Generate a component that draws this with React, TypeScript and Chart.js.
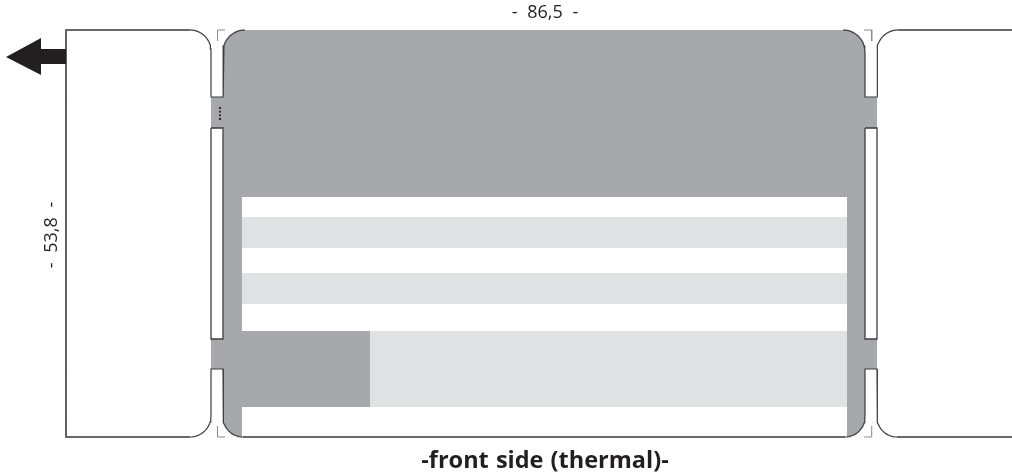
import React, { useEffect, useRef } from "react";
import { Chart, registerables } from "chart.js";

Chart.register(...registerables);

type P = { x: number; y: number };
type Rect = [number, number, number, number];

const widthLabel = "- 86,5 -";
const heightLabel = "- 53,8 -";
const sideLabel = "-front side (thermal)-";

const GREY = "#a7a8ab";
const LIGHT = "#e0e1e3";
const INK = "#3c3c3e";
const EDGE = "#58585a";
const MARK = "#8a8b8d";
const BLACK = "#231f20";

const arc = (cx: number, cy: number, r: number, a0: number, a1: number): P[] => {
  const out: P[] = [];
  const n = 16;
  for (let i = 0; i <= n; i++) {
    const a = ((a0 + ((a1 - a0) * i) / n) * Math.PI) / 180;
    out.push({ x: cx + r * Math.cos(a), y: cy + r * Math.sin(a) });
  }
  return out;
};
const pts = (list: [number, number][]): P[] => list.map(([x, y]) => ({ x, y }));
const box = ([x0, y0, x1, y1]: Rect): P[] =>
  pts([[x0, y0], [x1, y0], [x1, y1], [x0, y1], [x0, y0]]);

const cardShape: P[] = [
  ...arc(245, 52, 22, 180, 270),
  ...arc(843, 52, 22, 270, 360),
  ...arc(845, 417, 20, 0, 90),
  ...arc(243, 417, 20, 90, 180),
  { x: 223, y: 52 },
];
const greyBands: Rect[] = [
  [211, 97, 226, 128],
  [211, 339, 226, 369],
  [862, 97, 877, 128],
  [862, 339, 877, 369],
];
const whitePanel: Rect[] = [[242, 197, 847, 437]];
const lightRows: Rect[] = [
  [242, 217, 847, 248],
  [242, 273, 847, 304],
  [370, 331, 847, 407],
];
const darkBlock: Rect[] = [[242, 331, 370, 407]];
const slots: Rect[] = [
  [211, 128, 223, 339],
  [865, 128, 877, 339],
];

const lowerOutline: P[] = [
  ...arc(245, 52, 22, 270, 180),
  ...pts([[223, 97], [211, 97]]),
  ...arc(190, 51, 21, 0, -90),
  ...pts([[66, 30], [66, 437]]),
  ...arc(190, 416, 21, 90, 0),
  ...pts([[211, 369], [223, 369]]),
  ...arc(243, 417, 20, 180, 90),
  ...arc(845, 417, 20, 90, 0),
  ...pts([[865, 369], [877, 369]]),
  ...arc(897, 417, 20, 180, 90),
  { x: 1012, y: 437 },
];
const upperOutline: P[] = [
  ...arc(843, 52, 22, 270, 360),
  ...pts([[865, 97], [877, 97]]),
  ...arc(898, 51, 21, 180, 270),
  { x: 1012, y: 30 },
];
const heavyEdges: P[][] = [
  pts([[190, 30], [66, 30], [66, 437], [190, 437]]),
  pts([[243, 437], [845, 437]]),
  pts([[897, 437], [1012, 437]]),
  pts([[898, 30], [1012, 30]]),
];
const cropMarks: P[][] = [
  pts([[225, 30], [217.5, 30], [217.5, 41]]),
  pts([[864, 30], [871.7, 30], [871.7, 41]]),
  pts([[217.5, 426], [217.5, 437], [225, 437]]),
  pts([[864, 437], [871.7, 437], [871.7, 426]]),
];
const arrowShape: P[] = pts([
  [66, 49], [41, 49], [41, 38], [6, 57], [41, 75], [41, 64], [66, 64], [66, 49],
]);
const perforation: P[] = pts([[220, 108], [220, 111.7], [220, 115.4], [220, 119]]);

const fillOf = (data: P[], color: string) => ({
  type: "scatter" as const,
  data,
  showLine: true,
  fill: "shape",
  backgroundColor: color,
  borderColor: color,
  borderWidth: 0,
  pointRadius: 0,
  tension: 0,
});
const strokeOf = (data: P[], color: string, width: number) => ({
  type: "scatter" as const,
  data,
  showLine: true,
  fill: false,
  borderColor: color,
  borderWidth: width,
  pointRadius: 0,
  tension: 0,
  borderJoinStyle: "miter" as const,
});

const textPlugin = {
  id: "diagramText",
  afterDatasetsDraw(chart: any) {
    const { ctx, scales } = chart;
    const X = (v: number) => scales.x.getPixelForValue(v);
    const Y = (v: number) => scales.y.getPixelForValue(v);
    ctx.save();
    ctx.fillStyle = BLACK;
    ctx.textAlign = "center";
    ctx.textBaseline = "middle";
    ctx.font = '400 18px "Open Sans"';
    ctx.wordSpacing = "5px";
    ctx.fillText(widthLabel, X(545), Y(13));
    ctx.save();
    ctx.translate(X(52), Y(235));
    ctx.rotate(-Math.PI / 2);
    ctx.fillText(heightLabel, 0, 0);
    ctx.restore();
    ctx.font = '700 23.5px "Open Sans"';
    ctx.wordSpacing = "1px";
    ctx.fillText(sideLabel, X(545), Y(461));
    ctx.restore();
  },
};

export default function App() {
  const ref = useRef<HTMLCanvasElement>(null);
  useEffect(() => {
    document.body.style.margin = "0";
    const layers: any[] = [
      fillOf(cardShape, GREY),
      ...greyBands.map((r) => fillOf(box(r), GREY)),
      ...whitePanel.map((r) => fillOf(box(r), "#ffffff")),
      ...lightRows.map((r) => fillOf(box(r), LIGHT)),
      ...darkBlock.map((r) => fillOf(box(r), GREY)),
      ...slots.map((r) => ({ ...fillOf(box(r), "#ffffff") })),
      ...slots.map((r) => strokeOf(box(r), INK, 1.3)),
      strokeOf(lowerOutline, INK, 1.2),
      strokeOf(upperOutline, INK, 1.2),
      ...heavyEdges.map((d) => strokeOf(d, EDGE, 1.6)),
      ...cropMarks.map((d) => strokeOf(d, MARK, 1)),
      fillOf(arrowShape, BLACK),
      {
        type: "scatter",
        data: perforation,
        pointStyle: "rect",
        pointRadius: 1.3,
        pointBackgroundColor: BLACK,
        pointBorderWidth: 0,
        showLine: false,
      },
    ];
    layers.forEach((l, i) => (l.order = layers.length - i));
    const chart = new Chart(ref.current!, {
      type: "scatter",
      data: { datasets: layers },
      plugins: [textPlugin],
      options: {
        animation: false,
        responsive: false,
        layout: { padding: 0, autoPadding: false },
        plugins: {
          legend: { display: false },
          tooltip: { enabled: false },
          title: { display: false },
        },
        scales: {
          x: { type: "linear", min: 0, max: 1012, display: false },
          y: { type: "linear", min: 0, max: 474, reverse: true, display: false },
        },
      },
    } as any);
    return () => chart.destroy();
  }, []);
  return (
    <div style={{ position: "absolute", left: 0, top: 0, width: 1012, height: 474, background: "#fff" }}>
      <canvas ref={ref} width={1012} height={474} style={{ display: "block" }} />
    </div>
  );
}
